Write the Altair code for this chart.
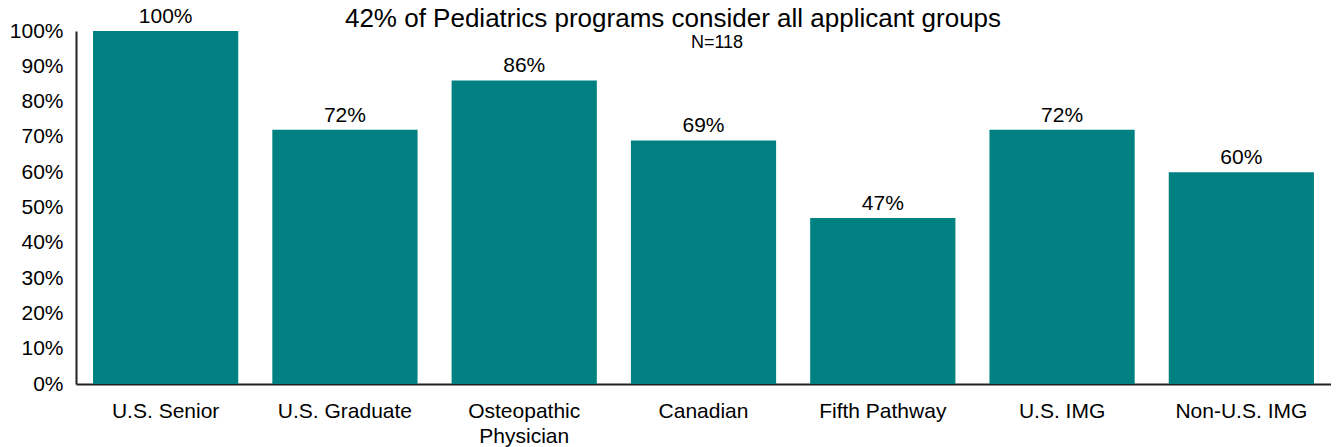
import altair as alt
import pandas as pd

categories = ["U.S. Senior", "U.S. Graduate", "Osteopathic\nPhysician", "Canadian",
              "Fifth Pathway", "U.S. IMG", "Non-U.S. IMG"]
values = [100, 72, 86, 69, 47, 72, 60]
y_ticks = [0, 10, 20, 30, 40, 50, 60, 70, 80, 90, 100]
title_text = ["42% of Pediatrics programs consider all applicant groups"]
n_programs = [118]

df = pd.DataFrame({"group": categories, "pct": values})
FONT = "Liberation Sans"
TEAL = "#008080"

base = alt.Chart(df).encode(
    x=alt.X("group:N", sort=categories,
            scale=alt.Scale(paddingInner=0.19, paddingOuter=0.095),
            axis=alt.Axis(title=None, labelAngle=0, ticks=False, domainColor="#222222",
                          domainWidth=2, labelFontSize=21, labelFont=FONT, labelColor="#000000",
                          labelPadding=16, labelLineHeight=25,
                          labelExpr="split(datum.label, '\\n')")),
    y=alt.Y("pct:Q", scale=alt.Scale(domain=[0, 100], nice=False),
            axis=alt.Axis(title=None, values=y_ticks, ticks=False, grid=False,
                          domainColor="#222222", domainWidth=2, labelFontSize=21,
                          labelFont=FONT, labelColor="#000000", labelPadding=13,
                          labelExpr="datum.value + '%'")),
)

bars = base.mark_bar(color=TEAL)
labels = base.transform_calculate(lbl="datum.pct + '%'").mark_text(
    baseline="alphabetic", dy=-8, fontSize=21, font=FONT, color="#000000"
).encode(text="lbl:N")

n_df = pd.DataFrame({"n": n_programs})
n_text = alt.Chart(n_df).transform_calculate(t="'N=' + datum.n").mark_text(
    fontSize=18, font=FONT, color="#000000", align="center", baseline="alphabetic"
).encode(x=alt.value(641), y=alt.value(17), text="t:N")

t_df = pd.DataFrame({"title": title_text})
title_mark = alt.Chart(t_df).mark_text(
    fontSize=26, font=FONT, color="#000000", align="center", baseline="alphabetic"
).encode(x=alt.value(597), y=alt.value(-4), text="title:N")

chart = alt.layer(bars, labels, n_text, title_mark).properties(
    width=1255, height=353,
    autosize=alt.AutoSizeParams(type="none"),
    padding={"left": 68, "top": 23, "right": 0, "bottom": 63},
).configure_view(stroke=None)

chart.save("out.html", embed_options={"renderer": "svg", "actions": False})
